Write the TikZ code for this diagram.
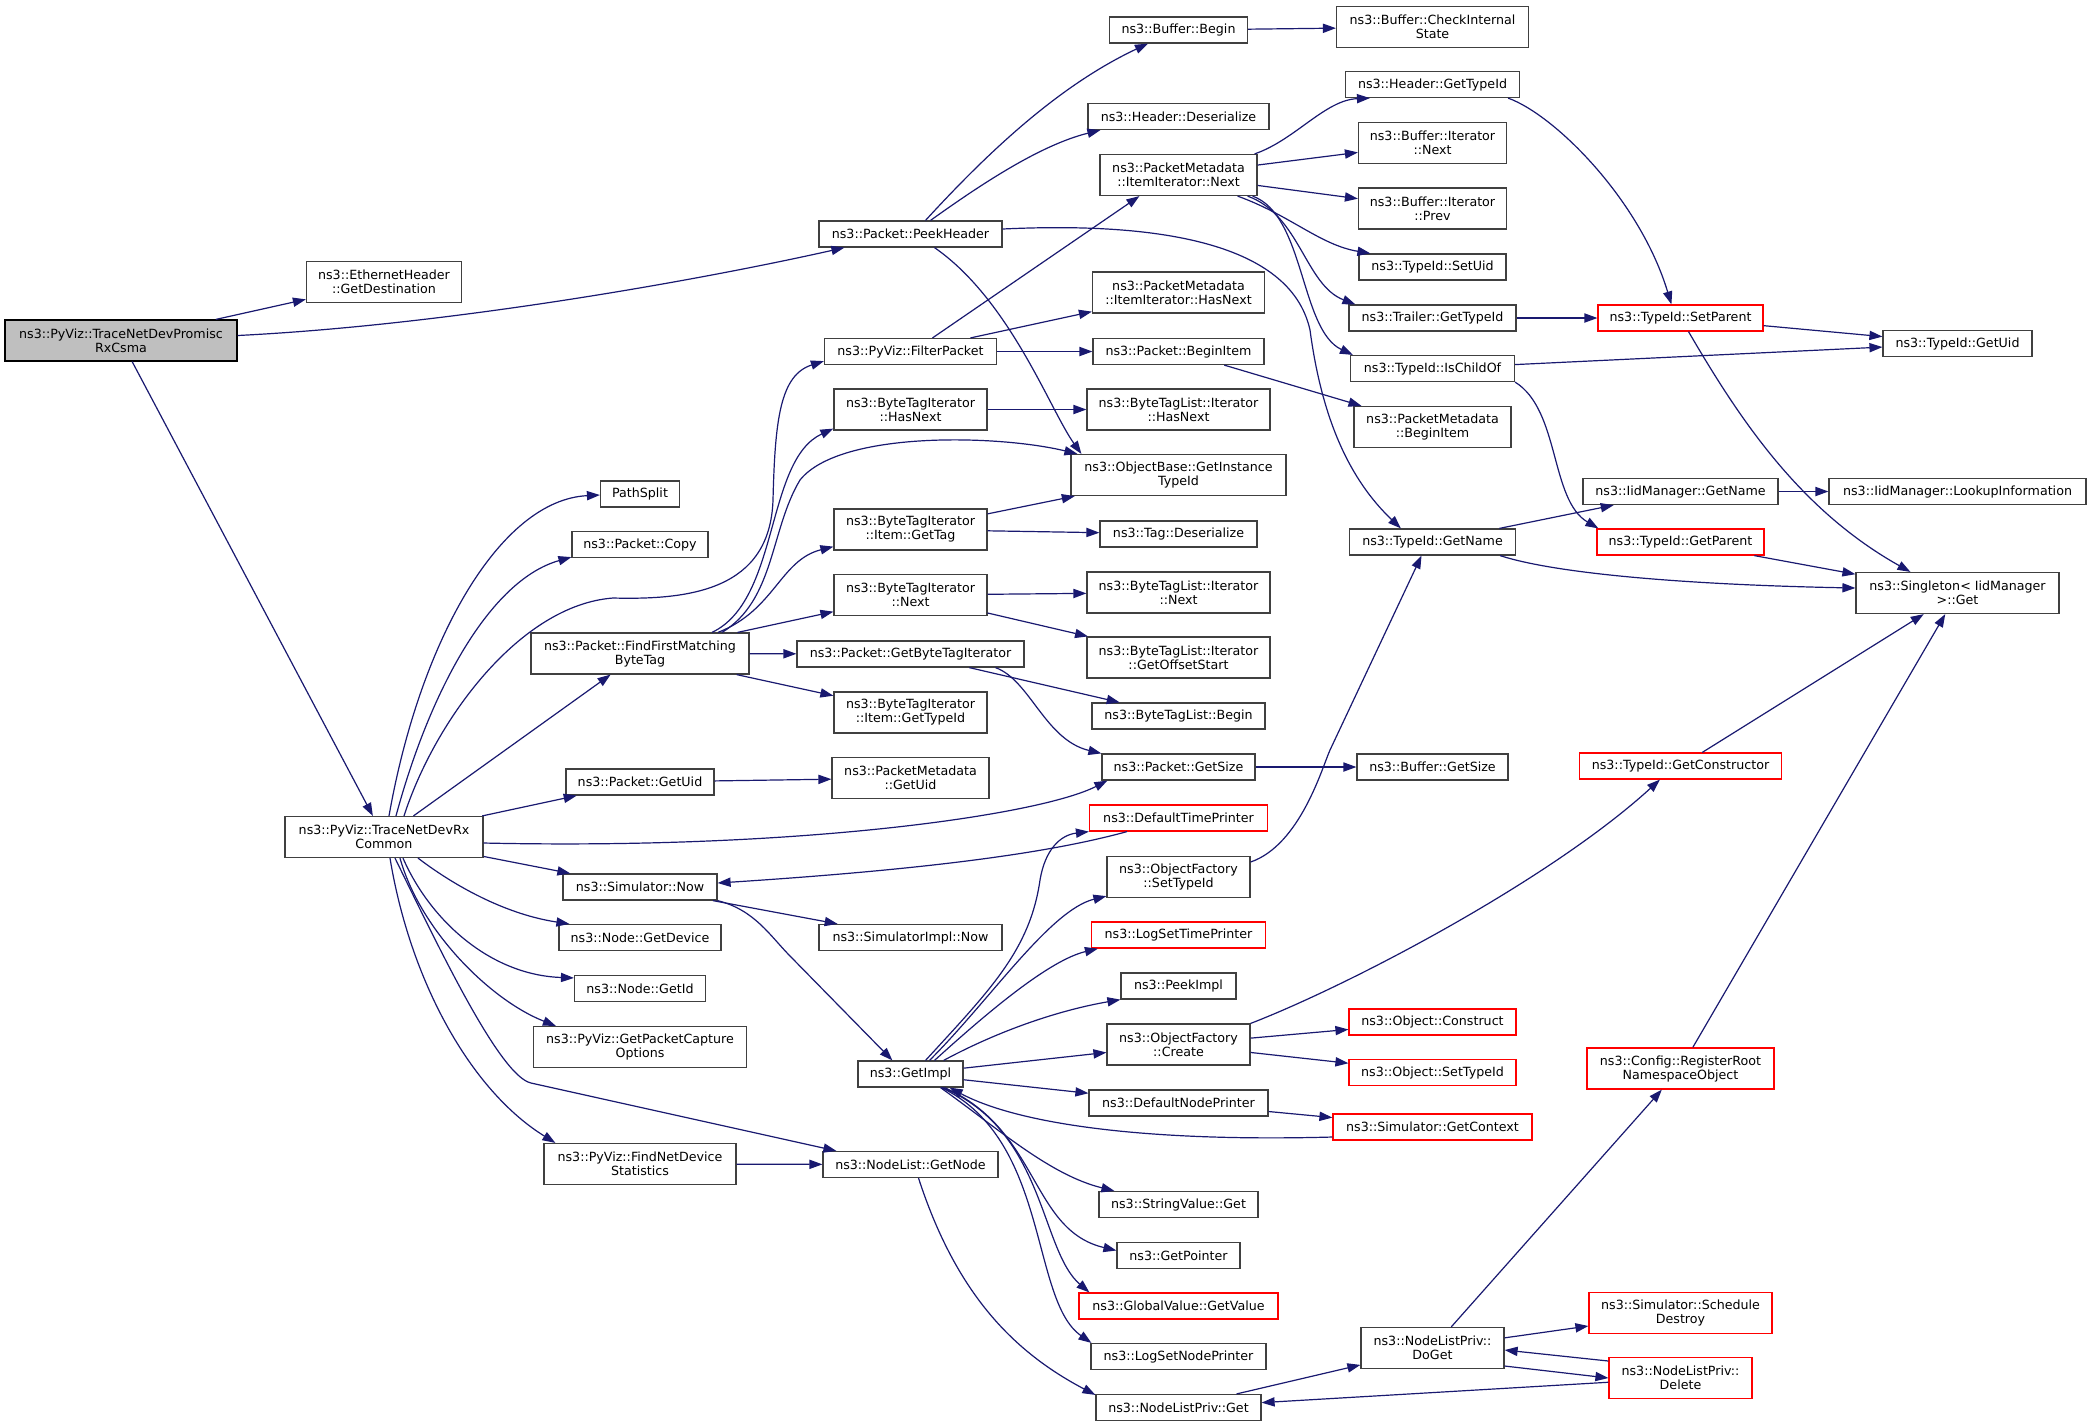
\documentclass[tikz,border=0pt]{standalone}
\usepackage{fontspec}
\setmainfont{DejaVu Sans}
\usepackage{tikz}
\usepackage{xcolor}
\usetikzlibrary{calc,arrows.meta}
\definecolor{edgeblue}{HTML}{191970}
\definecolor{boxgray}{HTML}{404040}
\definecolor{mainfill}{HTML}{BFBFBF}
\tikzstyle{boxes} = [rectangle, draw=boxgray, fill=white, line width=0.6pt, minimum height=13pt,
inner sep=0pt, align=center, font=\fontsize{6.33}{7}\selectfont]
\tikzstyle{boxes2} = [boxes, minimum height=20.5pt]
\tikzstyle{redbox} = [draw=red]
\tikzstyle{arrow} = [draw=edgeblue, line width=0.6pt, -{Triangle[length=6.5pt, width=4.6pt]}]

\begin{document}
\begin{tikzpicture}[x=0.5pt, y=-0.5pt]
        \path[use as bounding box, fill=white] (0,0) rectangle (2091,1426);

        % callers
        \node[boxes2, fill=mainfill, draw=black, minimum width=116pt] (main) at (121,340.5) {ns3::PyViz::TraceNetDevPromisc\\RxCsma};
        \node[boxes2, minimum width=77.5pt] (ethDest) at (384,282) {ns3::EthernetHeader\\::GetDestination};
        \node[boxes2, minimum width=99pt] (common) at (384,837) {ns3::PyViz::TraceNetDevRx\\Common};

        % column 640
        \node[boxes, minimum width=39.5pt] (pathSplit) at (640,494) {PathSplit};
        \node[boxes, minimum width=68pt] (pktCopy) at (640,544.5) {ns3::Packet::Copy};
        \node[boxes2, minimum width=109pt] (findFirst) at (640,653.5) {ns3::Packet::FindFirstMatching\\ByteTag};
        \node[boxes, minimum width=74pt] (pktGetUid) at (640,782) {ns3::Packet::GetUid};
        \node[boxes, minimum width=77pt] (simNow) at (640,887) {ns3::Simulator::Now};
        \node[boxes, minimum width=81pt] (nodeGetDevice) at (640,937.5) {ns3::Node::GetDevice};
        \node[boxes, minimum width=65.5pt] (nodeGetId) at (640,988.5) {ns3::Node::GetId};
        \node[boxes2, minimum width=106.5pt] (getPktCapture) at (640,1047) {ns3::PyViz::GetPacketCapture\\Options};
        \node[boxes2, minimum width=96pt] (findNetDev) at (640,1164) {ns3::PyViz::FindNetDevice\\Statistics};

        % column 910
        \node[boxes, minimum width=91.5pt] (peekHeader) at (910.5,234) {ns3::Packet::PeekHeader};
        \node[boxes, minimum width=86pt] (filterPacket) at (910.5,351.5) {ns3::PyViz::FilterPacket};
        \node[boxes2, minimum width=76.5pt] (btiHasNext) at (910.5,409.5) {ns3::ByteTagIterator\\::HasNext};
        \node[boxes2, minimum width=76.5pt] (btiGetTag) at (910.5,529.5) {ns3::ByteTagIterator\\::Item::GetTag};
        \node[boxes2, minimum width=76.5pt] (btiNext) at (910.5,595) {ns3::ByteTagIterator\\::Next};
        \node[boxes, minimum width=113.5pt] (getBtIter) at (910.5,654) {ns3::Packet::GetByteTagIterator};
        \node[boxes2, minimum width=76.5pt] (btiGetTypeId) at (910.5,712.5) {ns3::ByteTagIterator\\::Item::GetTypeId};
        \node[boxes2, minimum width=78.5pt] (pmGetUid) at (910.5,778) {ns3::PacketMetadata\\::GetUid};
        \node[boxes, minimum width=91.5pt] (simImplNow) at (910.5,937.5) {ns3::SimulatorImpl::Now};
        \node[boxes, minimum width=52.5pt] (getImpl) at (910.5,1074) {ns3::GetImpl};
        \node[boxes, minimum width=87.5pt] (getNode) at (910.5,1164.5) {ns3::NodeList::GetNode};

        % column 1178
        \node[boxes, minimum width=69pt] (bufBegin) at (1178.5,30) {ns3::Buffer::Begin};
        \node[boxes, minimum width=90.5pt] (hdrDeser) at (1178.5,116.5) {ns3::Header::Deserialize};
        \node[boxes2, minimum width=78.5pt] (pmNext) at (1178.5,175) {ns3::PacketMetadata\\::ItemIterator::Next};
        \node[boxes2, minimum width=86pt] (pmHasNext) at (1178.5,292.5) {ns3::PacketMetadata\\::ItemIterator::HasNext};
        \node[boxes, minimum width=85.5pt] (pktBeginItem) at (1178.5,351.5) {ns3::Packet::BeginItem};
        \node[boxes2, minimum width=91.5pt] (btlHasNext) at (1178.5,409.5) {ns3::ByteTagList::Iterator\\::HasNext};
        \node[boxes2, minimum width=107.5pt] (getInstTid) at (1178.5,475) {ns3::ObjectBase::GetInstance\\TypeId};
        \node[boxes, minimum width=78.5pt] (tagDeser) at (1178.5,534) {ns3::Tag::Deserialize};
        \node[boxes2, minimum width=91.5pt] (btlNext) at (1178.5,592.5) {ns3::ByteTagList::Iterator\\::Next};
        \node[boxes2, minimum width=91.5pt] (btlOffset) at (1178.5,657.5) {ns3::ByteTagList::Iterator\\::GetOffsetStart};
        \node[boxes, minimum width=86.5pt] (btlBegin) at (1178.5,716) {ns3::ByteTagList::Begin};
        \node[boxes, minimum width=76.5pt] (pktGetSize) at (1178.5,767) {ns3::Packet::GetSize};
        \node[boxes, redbox, minimum width=89pt] (defTimePrinter) at (1178.5,818) {ns3::DefaultTimePrinter};
        \node[boxes2, minimum width=71.5pt] (ofSetTypeId) at (1178.5,877) {ns3::ObjectFactory\\::SetTypeId};
        \node[boxes, redbox, minimum width=87pt] (logSetTime) at (1178.5,935) {ns3::LogSetTimePrinter};
        \node[boxes, minimum width=57.5pt] (peekImpl) at (1178.5,986) {ns3::PeekImpl};
        \node[boxes2, minimum width=71.5pt] (ofCreate) at (1178.5,1044.5) {ns3::ObjectFactory\\::Create};
        \node[boxes, minimum width=89.5pt] (defNodePrinter) at (1178.5,1103) {ns3::DefaultNodePrinter};
        \node[boxes, minimum width=79.5pt] (strValGet) at (1178.5,1204.5) {ns3::StringValue::Get};
        \node[boxes, minimum width=61.5pt] (getPointer) at (1178.5,1255.5) {ns3::GetPointer};
        \node[boxes, redbox, minimum width=99.5pt] (gvGetValue) at (1178.5,1306) {ns3::GlobalValue::GetValue};
        \node[boxes, minimum width=87.5pt] (logSetNode) at (1178.5,1356.5) {ns3::LogSetNodePrinter};
        \node[boxes, minimum width=82.5pt] (nlpGet) at (1178.5,1407.5) {ns3::NodeListPriv::Get};

        % column 1432
        \node[boxes2, minimum width=96pt] (bufCheck) at (1432.5,27) {ns3::Buffer::CheckInternal\\State};
        \node[boxes, minimum width=87pt] (hdrGetTid) at (1432.5,84.5) {ns3::Header::GetTypeId};
        \node[boxes2, minimum width=74pt] (bufItNext) at (1432.5,143) {ns3::Buffer::Iterator\\::Next};
        \node[boxes2, minimum width=74pt] (bufItPrev) at (1432.5,208.5) {ns3::Buffer::Iterator\\::Prev};
        \node[boxes, minimum width=73.5pt] (tidSetUid) at (1432.5,267) {ns3::TypeId::SetUid};
        \node[boxes, minimum width=83.5pt] (trailerGetTid) at (1432.5,318) {ns3::Trailer::GetTypeId};
        \node[boxes, minimum width=82pt] (tidIsChildOf) at (1432.5,368.5) {ns3::TypeId::IsChildOf};
        \node[boxes2, minimum width=78.5pt] (pmBeginItem) at (1432.5,427) {ns3::PacketMetadata\\::BeginItem};
        \node[boxes, minimum width=83pt] (tidGetName) at (1432.5,542) {ns3::TypeId::GetName};
        \node[boxes, minimum width=75.5pt] (bufGetSize) at (1432.5,767) {ns3::Buffer::GetSize};
        \node[boxes, redbox, minimum width=83.5pt] (objConstruct) at (1432.5,1022) {ns3::Object::Construct};
        \node[boxes, redbox, minimum width=83.5pt] (objSetTypeId) at (1432.5,1072.5) {ns3::Object::SetTypeId};
        \node[boxes, redbox, minimum width=99.5pt] (simGetContext) at (1432.5,1127) {ns3::Simulator::GetContext};
        \node[boxes2, minimum width=71.5pt] (nlpDoGet) at (1432.5,1348) {ns3::NodeListPriv::\\DoGet};

        % column 1680
        \node[boxes, redbox, minimum width=82.5pt] (tidSetParent) at (1680.5,318) {ns3::TypeId::SetParent};
        \node[boxes, minimum width=97.5pt] (iidGetName) at (1680.5,491.5) {ns3::IidManager::GetName};
        \node[boxes, redbox, minimum width=83.5pt] (tidGetParent) at (1680.5,542) {ns3::TypeId::GetParent};
        \node[boxes, redbox, minimum width=101pt] (tidGetConstructor) at (1680.5,766) {ns3::TypeId::GetConstructor};
        \node[boxes2, redbox, minimum width=93.5pt] (cfgRegister) at (1680.5,1068.5) {ns3::Config::RegisterRoot\\NamespaceObject};
        \node[boxes2, redbox, minimum width=91.5pt] (schedDestroy) at (1680.5,1313) {ns3::Simulator::Schedule\\Destroy};
        \node[boxes2, redbox, minimum width=71.5pt] (nlpDelete) at (1680.5,1378) {ns3::NodeListPriv::\\Delete};

        % column 1957
        \node[boxes, minimum width=74.5pt] (tidGetUid) at (1957.5,343.5) {ns3::TypeId::GetUid};
        \node[boxes, minimum width=128.5pt] (iidLookup) at (1957.5,491.5) {ns3::IidManager::LookupInformation};
        \node[boxes2, minimum width=101.5pt] (singletonGet) at (1957.5,593) {ns3::Singleton< IidManager\\>::Get};

        % TraceNetDevPromiscRxCsma
        \draw[arrow] (main) -- (ethDest);
        \draw[arrow] ($(main.east)+(0,-5)$) .. controls (450,325) and (700,280) .. ($(peekHeader.south west)+(26,0)$);
        \draw[arrow] (main) -- (common);

        % PeekHeader
        \draw[arrow] ($(peekHeader.north)+(15,0)$) .. controls (990,150) and (1060,85) .. ($(bufBegin.south west)+(39,0)$);
        \draw[arrow] ($(peekHeader.north)+(20,0)$) .. controls (980,185) and (1040,145) .. ($(hdrDeser.south west)+(13,0)$);
        \draw[arrow] ($(peekHeader.south)+(24,0)$) .. controls (1010,300) and (1050,410) .. ($(getInstTid.north west)+(11,0)$);
        \draw[arrow] ($(peekHeader.east)+(0,-5)$) .. controls (1150,222) and (1290,240) .. (1310,330)
            .. controls (1322,420) and (1350,480) .. ($(tidGetName.north west)+(52,0)$);
        \draw[arrow] (bufBegin) -- (bufCheck);

        % ItemIterator::Next
        \draw[arrow] ($(pmNext.north east)+(-3,0)$) .. controls (1295,140) and (1325,100) .. ($(hdrGetTid.south west)+(25,0)$);
        \draw[arrow] (pmNext) -- (bufItNext);
        \draw[arrow] (pmNext) -- (bufItPrev);
        \draw[arrow] ($(pmNext.south east)+(-20,0)$) .. controls (1290,215) and (1320,245) .. ($(tidSetUid.north west)+(12,0)$);
        \draw[arrow] ($(pmNext.south east)+(-10,0)$) .. controls (1300,215) and (1305,285) .. ($(trailerGetTid.north west)+(7,0)$);
        \draw[arrow] ($(pmNext.south east)+(-5,0)$) .. controls (1305,215) and (1300,330) .. ($(tidIsChildOf.north west)+(3,0)$);

        % TypeId
        \draw[arrow] ($(hdrGetTid.south east)+(-12,0)$) .. controls (1555,115) and (1640,200) .. ($(tidSetParent.north west)+(74,0)$);
        \draw[arrow] (trailerGetTid) -- (tidSetParent);
        \draw[arrow] (tidSetParent) -- (tidGetUid);
        \draw[arrow] ($(tidSetParent.south)+(8,0)$) .. controls (1740,420) and (1800,510) .. ($(singletonGet.north west)+(55,0)$);
        \draw[arrow] (tidIsChildOf) -- (tidGetUid);
        \draw[arrow] (tidIsChildOf.south east) .. controls (1560,410) and (1550,500) .. ($(tidGetParent.north west)+(2,0)$);
        \draw[arrow] (tidGetName) -- (iidGetName);
        \draw[arrow] (iidGetName) -- (iidLookup);
        \draw[arrow] ($(tidGetName.south east)+(-16,0)$) .. controls (1560,575) and (1700,585) .. ($(singletonGet.west)+(0,-5)$);
        \draw[arrow] (tidGetParent) -- (singletonGet);
        \draw[arrow] (tidGetConstructor) -- (singletonGet);
        \draw[arrow] (cfgRegister) -- (singletonGet);

        % FilterPacket
        \draw[arrow] ($(filterPacket.north)+(22,0)$) -- ($(pmNext.south west)+(40,0)$);
        \draw[arrow] ($(filterPacket.north)+(60,0)$) -- ($(pmHasNext.south west)+(0,-2)$);
        \draw[arrow] (filterPacket) -- (pktBeginItem);
        \draw[arrow] (pktBeginItem) -- (pmBeginItem);

        % ByteTagIterator
        \draw[arrow] (btiHasNext) -- (btlHasNext);
        \draw[arrow] (btiGetTag) -- (getInstTid);
        \draw[arrow] (btiGetTag) -- (tagDeser);
        \draw[arrow] (btiNext) -- (btlNext);
        \draw[arrow] (btiNext) -- (btlOffset);

        % FindFirstMatchingByteTag
        \draw[arrow] ($(findFirst.north)+(72,0)$) .. controls (780,600) and (765,460) .. ($(btiHasNext.south west)+(0,-2)$);
        \draw[arrow] ($(findFirst.north)+(78,0)$) .. controls (775,610) and (780,560) .. ($(btiGetTag.south west)+(0,-4)$);
        \draw[arrow] ($(findFirst.north)+(82,0)$) .. controls (775,600) and (770,530) .. (800,480)
            .. controls (840,430) and (1000,435) .. ($(getInstTid.north west)+(7,0)$);
        \draw[arrow] (findFirst) -- (btiNext);
        \draw[arrow] (findFirst) -- (getBtIter);
        \draw[arrow] (findFirst) -- (btiGetTypeId);
        \draw[arrow] (getBtIter) -- (btlBegin);
        \draw[arrow] ($(getBtIter.south)+(85,0)$) .. controls (1030,680) and (1045,740) .. (pktGetSize.north west);
        \draw[arrow] (pktGetSize) -- (bufGetSize);
        \draw[arrow] (pktGetUid) -- (pmGetUid);

        % TraceNetDevRxCommon
        \draw[arrow] ($(common.north)+(5,0)$) .. controls (420,640) and (500,500) .. ($(pathSplit.west)+(0,1)$);
        \draw[arrow] ($(common.north)+(12,0)$) .. controls (430,690) and (490,580) .. ($(pktCopy.south west)+(0,-1)$);
        \draw[arrow] ($(common.north)+(20,0)$) .. controls (435,720) and (520,605) .. (613,598)
            .. controls (690,600) and (770,590) .. (773,500)
            .. controls (775,420) and (780,375) .. ($(filterPacket.south west)+(0,-4)$);
        \draw[arrow] (common) -- (findFirst);
        \draw[arrow] (common) -- (pktGetUid);
        \draw[arrow] ($(common.east)+(0,6)$) .. controls (800,850) and (1040,815) .. ($(pktGetSize.south west)+(6,0)$);
        \draw[arrow] (common) -- (simNow);
        \draw[arrow] ($(common.south)+(34,0)$) .. controls (460,890) and (510,915) .. ($(nodeGetDevice.north west)+(11,0)$);
        \draw[arrow] ($(common.south)+(19,0)$) .. controls (430,920) and (490,975) .. ($(nodeGetId.north west)+(0,3)$);
        \draw[arrow] ($(common.south)+(16,0)$) .. controls (420,930) and (490,1000) .. ($(getPktCapture.north west)+(23,0)$);
        \draw[arrow] ($(common.south)+(11,0)$) .. controls (440,950) and (500,1076) .. (531,1083) -- ($(getNode.north west)+(14,0)$);
        \draw[arrow] ($(common.south)+(6,0)$) .. controls (410,980) and (470,1090) .. ($(findNetDev.north west)+(12,0)$);
        \draw[arrow] (findNetDev) -- (getNode);

        % Simulator::Now
        \draw[arrow] (simNow) -- (simImplNow);
        \draw[arrow] (simNow.south east) .. controls (755,910) and (770,936) .. (791,957) -- ($(getImpl.north west)+(35,0)$);
        \draw[arrow] ($(defTimePrinter.south west)+(38,0)$) .. controls (1060,850) and (950,868) .. ($(simNow.east)+(0,-4)$);

        % GetImpl
        \draw[arrow] ($(getImpl.north)+(15,0)$) .. controls (990,990) and (1030,950) .. (1040,880)
            .. controls (1045,850) and (1060,835) .. (defTimePrinter.south west);
        \draw[arrow] ($(getImpl.north)+(19,0)$) .. controls (990,1000) and (1050,910) .. ($(ofSetTypeId.south west)+(0,-2)$);
        \draw[arrow] ($(getImpl.north)+(24,0)$) .. controls (990,1010) and (1050,960) .. ($(logSetTime.south west)+(7,0)$);
        \draw[arrow] ($(getImpl.north east)+(-20,0)$) .. controls (1000,1030) and (1060,1010) .. (peekImpl.south west);
        \draw[arrow] (getImpl) -- (ofCreate);
        \draw[arrow] (getImpl) -- (defNodePrinter);
        \draw[arrow] ($(getImpl.south)+(30,0)$) .. controls (1000,1130) and (1050,1175) .. ($(strValGet.north west)+(16,0)$);
        \draw[arrow] ($(getImpl.south)+(34,0)$) .. controls (1040,1130) and (1030,1230) .. ($(getPointer.west)+(0,-5)$);
        \draw[arrow] ($(getImpl.south)+(32,0)$) .. controls (1045,1130) and (1040,1250) .. ($(gvGetValue.north west)+(11,0)$);
        \draw[arrow] ($(getImpl.south)+(31,0)$) .. controls (1050,1140) and (1030,1300) .. ($(logSetNode.north west)+(1,0)$);
        \draw[arrow] ($(simGetContext.west)+(0,10)$) .. controls (1150,1142) and (1020,1125) .. ($(getImpl.south east)+(-14,0)$);

        % ObjectFactory
        \draw[arrow] ($(ofSetTypeId.east)+(0,-15)$) .. controls (1300,845) and (1322,768) .. (1330,750) -- ($(tidGetName.south)+(-11,0)$);
        \draw[arrow] (ofCreate.north east) .. controls (1350,985) and (1550,880) .. ($(tidGetConstructor.south west)+(81,0)$);
        \draw[arrow] (ofCreate) -- (objConstruct);
        \draw[arrow] (ofCreate) -- (objSetTypeId);
        \draw[arrow] (defNodePrinter) -- (simGetContext);

        % NodeList
        \draw[arrow] ($(getNode.south)+(8,0)$) .. controls (955,1290) and (1010,1350) .. ($(nlpGet.north west)+(0,1)$);
        \draw[arrow] (nlpGet) -- (nlpDoGet);
        \draw[arrow] (nlpDoGet) -- (cfgRegister);
        \draw[arrow] (nlpDoGet) -- (schedDestroy);
        \draw[arrow] ($(nlpDoGet.east)+(0,18)$) -- (nlpDelete.west);
        \draw[arrow] ($(nlpDelete.west)+(0,-17)$) -- ($(nlpDoGet.east)+(0,2)$);
        \draw[arrow] (nlpDelete) -- (nlpGet);

    \end{tikzpicture}
\end{document}
